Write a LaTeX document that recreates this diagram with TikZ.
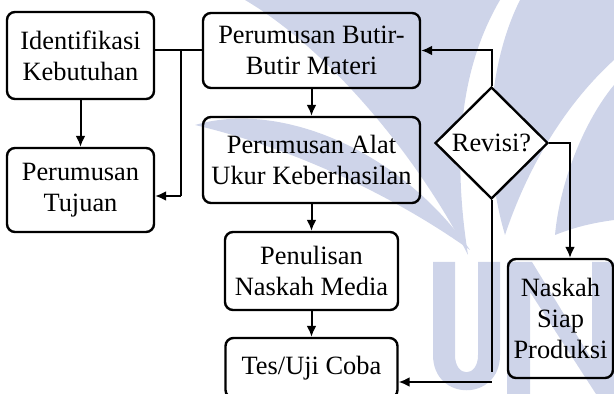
\documentclass[tikz,border=0pt]{standalone}
\usepackage{fontspec}
\setmainfont{Liberation Serif}
\usetikzlibrary{arrows.meta,shapes.geometric,calc}
\definecolor{wm}{RGB}{206,212,233}
\begin{document}
\begin{tikzpicture}[x=0.5pt,y=-0.5pt,
  procbox/.style={draw, rounded corners=4pt, line width=1.2pt, align=center, inner sep=0pt, font=\fontsize{13.2}{15.5}\selectfont},
  decbox/.style={draw, diamond, fill=white, line width=1.2pt, inner sep=0pt, font=\fontsize{13.2}{15.5}\selectfont},
  conn/.style={line width=1pt},
  arr/.style={line width=1pt, -{Latex[length=5.5pt,width=5pt]}}]
\useasboundingbox (0,0) rectangle (614,394);
\begin{scope}
\clip (0,0) rectangle (614,394);
% watermark
\fill[wm] (245,0) -- (500,0) .. controls (465,60) and (450,140) .. (468,255) .. controls (420,160) and (330,50) .. cycle;
\fill[wm] (195,125) .. controls (280,100) and (400,150) .. (470,250) .. controls (400,200) and (300,150) .. cycle;
\fill[wm] (520,0) -- (614,0) -- (614,60) .. controls (570,100) and (530,160) .. (505,235) .. controls (480,150) and (490,60) .. cycle;
\fill[wm] (614,85) .. controls (585,120) and (560,180) .. (555,235) .. controls (580,225) and (600,222) .. (614,220) -- cycle;
\fill[wm] (433,262) -- (433,355) .. controls (433,402) and (500,402) .. (500,355) -- (500,262) -- (478,262) -- (478,355) .. controls (478,378) and (455,378) .. (455,355) -- (455,262) -- cycle;
\fill[wm] (507,262) -- (532,262) -- (592,360) -- (592,262) -- (614,262) -- (614,394) -- (596,394) -- (530,292) -- (530,394) -- (507,394) -- cycle;
\end{scope}
% nodes
\node[procbox, minimum width=73.5pt, minimum height=43.5pt] (ident) at (80.5,55.5) {Identifikasi\\Kebutuhan};
\node[procbox, minimum width=73.5pt, minimum height=42pt] (tujuan) at (80.5,190) {Perumusan\\Tujuan};
\node[procbox, minimum width=108.5pt, minimum height=37.5pt] (butir) at (311.5,50.5) {Perumusan Butir-\\Butir Materi};
\node[procbox, minimum width=108.5pt, minimum height=43pt] (alat) at (311.5,160) {Perumusan Alat\\Ukur Keberhasilan};
\node[procbox, minimum width=86.5pt, minimum height=39pt] (tulis) at (311.5,271) {Penulisan\\Naskah Media};
\node[procbox, minimum width=86pt, minimum height=30pt] (tes) at (311.5,368) {Tes/Uji Coba};
\node[decbox, minimum width=56.5pt, minimum height=56pt] (rev) at (491.5,143) {Revisi?};
\node[procbox, minimum width=52.5pt, minimum height=59.5pt] (siap) at (560.5,318.5) {Naskah\\Siap\\Produksi};
% junctions
\coordinate (j1) at (181,50.5);
\coordinate (j2) at (181,196);
\coordinate (k1) at (570,143);
\coordinate (m1) at (491.5,372);
\coordinate (m2) at (491.5,382);
% connectors
\draw[conn] (ident.east |- butir.west) -- (butir.west);
\draw[conn] (j1) -- (j2);
\draw[arr] (j2) -- (tujuan.east |- j2);
\draw[arr] (ident.south) -- (tujuan.north);
\draw[arr] (butir.south) -- (alat.north);
\draw[arr] (alat.south) -- (tulis.north);
\draw[arr] (tulis.south) -- (tes.north);
\draw[arr] (rev.north) |- (butir.east);
\draw[arr] (rev.east) -- (k1) -- (k1 |- siap.north);
\draw[conn] (rev.south) -- (m1);
\draw[arr] (m2) -- (tes.east |- m2);
\end{tikzpicture}
\end{document}
